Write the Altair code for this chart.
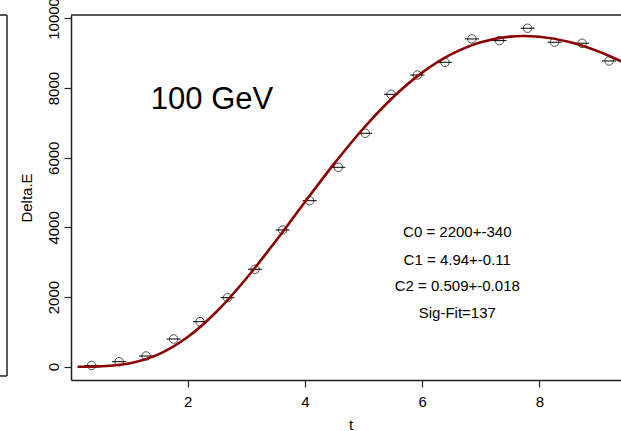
import altair as alt
import pandas as pd

# ---- data ----
# measured points (t, Delta.E) with horizontal error half-width
t_pts = [0.36, 0.83, 1.29, 1.76, 2.21, 2.68, 3.15, 3.62, 4.08, 4.57,
         5.03, 5.47, 5.92, 6.39, 6.85, 7.32, 7.80, 8.26, 8.73, 9.19]
e_pts = [35, 144, 307, 795, 1292, 1981, 2797, 3925, 4766, 5725,
         6702, 7821, 8375, 8740, 9411, 9362, 9718, 9316, 9287, 8779]
t_halfwidth = 0.12

# fitted curve
t_fit = [0.12, 0.5, 1.0, 1.5, 2.0, 2.5, 3.0, 3.5, 4.0, 4.5,
         5.0, 5.5, 6.0, 6.5, 7.0, 7.5, 8.0, 8.5, 9.0, 9.5]
e_fit = [0, 8, 92, 354, 853, 1593, 2533, 3604, 4728, 5830,
         6846, 7730, 8444, 8973, 9319, 9478, 9473, 9328, 9057, 8688]

# annotations
fit_labels = ["C0 = 2200+-340", "C1 = 4.94+-0.11", "C2 = 0.509+-0.018", "Sig-Fit=137"]
fit_label_t = [6.6, 6.6, 6.6, 6.6]
fit_label_e = [3880, 3060, 2320, 1530]
title_label = ["100 GeV"]
title_t = [2.415]
title_e = [7657]

x_ticks = [2, 4, 6, 8]
y_ticks = [0, 2000, 4000, 6000, 8000, 10000]

FONT = "Liberation Sans"
W, H = 550, 365
LINE = "#222222"

pts = pd.DataFrame({"t": t_pts, "E": e_pts})
pts["lo"] = pts["t"] - t_halfwidth
pts["hi"] = pts["t"] + t_halfwidth
fit = pd.DataFrame({"t": t_fit, "E": e_fit})
ann = pd.DataFrame({"t": fit_label_t, "E": fit_label_e, "txt": fit_labels})
big = pd.DataFrame({"t": title_t, "E": title_e, "txt": title_label})

xscale = alt.Scale(domain=[0.0085, 9.394], nice=False, zero=False)
yscale = alt.Scale(domain=[-382, 10098], nice=False, zero=False)

xaxis = alt.Axis(values=x_ticks, grid=False, title="t", tickSize=7,
                 labelPadding=19.5, labelBaseline="alphabetic",
                 labelFontSize=15, labelFont=FONT, labelColor="black",
                 titleFont=FONT, titleFontSize=15, titleFontWeight="normal",
                 titleColor="black", titleX=279.7, titleY=49,
                 titleAlign="center", titleBaseline="alphabetic",
                 domainColor=LINE, domainWidth=1.5, tickColor=LINE, tickWidth=1.2,
                 labelFlush=False, labelOverlap=False)
yaxis = alt.Axis(values=y_ticks, format="d", grid=False, title="Delta.E", tickSize=7,
                 labelAngle=270, labelAlign="center", labelBaseline="alphabetic",
                 labelPadding=5.5, labelFontSize=15, labelFont=FONT,
                 labelColor="black", titleFont=FONT, titleFontSize=15,
                 titleFontWeight="normal", titleColor="black", titleAngle=270,
                 titleX=-39.3, titleY=182.5, titleAlign="center",
                 titleBaseline="alphabetic", domainColor=LINE, domainWidth=1.5,
                 tickColor=LINE, tickWidth=1.2, labelFlush=False, labelOverlap=False)

X = lambda f: alt.X(f, type="quantitative", scale=xscale, axis=xaxis)
Y = lambda f: alt.Y(f, type="quantitative", scale=yscale, axis=yaxis)

bars = alt.Chart(pts).mark_rule(color="black", strokeWidth=1).encode(
    x=X("lo"), x2="hi", y=Y("E"))
points = alt.Chart(pts).mark_point(shape="circle", filled=False, size=72,
                                   color="black", strokeWidth=1).encode(
    x=X("t"), y=Y("E"))
curve = alt.Chart(fit).mark_line(color="#8B0000", strokeWidth=2.6, clip=True,
                                 interpolate="catmull-rom").encode(
    x=X("t"), y=Y("E"))
texts = alt.Chart(ann).mark_text(font=FONT, fontSize=15, color="black",
                                 align="center", baseline="middle").encode(
    x=X("t"), y=Y("E"), text="txt")
bigtext = alt.Chart(big).mark_text(font=FONT, fontSize=31, color="black",
                                   align="center", baseline="middle").encode(
    x=X("t"), y=Y("E"), text="txt")

one = pd.DataFrame({"a": [0]})
top_line = alt.Chart(one).mark_rule(color=LINE, strokeWidth=1.5).encode(
    x=alt.value(0), x2=alt.value(W), y=alt.value(0))
box_top = alt.Chart(one).mark_rule(color=LINE, strokeWidth=1.5).encode(
    x=alt.value(-72), x2=alt.value(-64), y=alt.value(0))
box_right = alt.Chart(one).mark_rule(color=LINE, strokeWidth=1.5).encode(
    x=alt.value(-64), y=alt.value(0), y2=alt.value(361))
box_bottom = alt.Chart(one).mark_rule(color=LINE, strokeWidth=1.5).encode(
    x=alt.value(-72), x2=alt.value(-64), y=alt.value(361))

chart = alt.layer(
    bars, points, curve, texts, bigtext, top_line, box_top, box_right, box_bottom
).properties(
    width=W, height=H,
    autosize=alt.AutoSizeParams(type="none"),
    padding={"left": 71, "top": 15, "right": 0, "bottom": 51},
    background="white",
).configure_view(stroke="transparent")

chart.save("out.html", embed_options={"renderer": "svg", "actions": False})
